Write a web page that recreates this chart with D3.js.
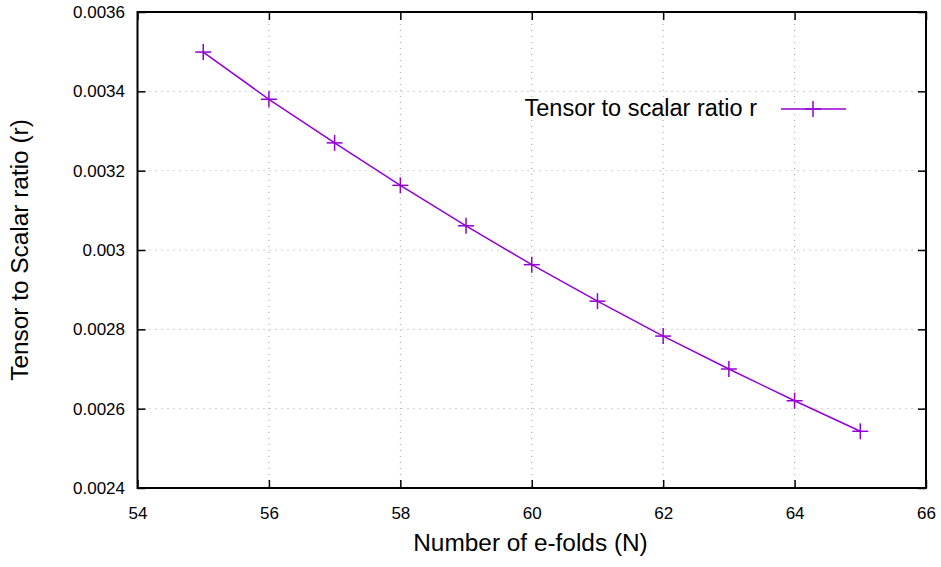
<!DOCTYPE html>
<html><head><meta charset="utf-8">
<script src="https://cdn.jsdelivr.net/npm/d3@7"></script>
<style>body{margin:0;background:#fff}svg{display:block}text{font-family:"Liberation Sans",Arial,Helvetica,sans-serif}</style>
</head><body><svg id="c" width="941" height="567"></svg>
<script>
const efolds = [55,56,57,58,59,60,61,62,63,64,65];
const rValues = [0.003499,0.003380,0.003270,0.003163,0.003061,0.002963,0.002871,0.002783,0.002700,0.002620,0.002543];
const xTicks = [54,56,58,60,62,64,66];
const yTicks = [0.0024,0.0026,0.0028,0.003,0.0032,0.0034,0.0036];
const yTickLabels = ["0.0024","0.0026","0.0028","0.003","0.0032","0.0034","0.0036"];
const seriesName = "Tensor to scalar ratio r";
const color = "#9400d3";

const svg = d3.select("#c");
const L=137.5, R=926, T=12, B=488;
const x = d3.scaleLinear().domain([54,66]).range([L,R]);
const y = d3.scaleLinear().domain([0.0024,0.0036]).range([B,T]);

// grid
const g = svg.append("g");
g.selectAll(".gx").data(xTicks.slice(1,-1)).enter().append("line")
 .attr("x1",d=>x(d)).attr("x2",d=>x(d)).attr("y1",T).attr("y2",B)
 .attr("stroke","#a0a0a0").attr("stroke-width",1).attr("stroke-dasharray","1,5");
g.selectAll(".gy").data(yTicks.slice(1,-1)).enter().append("line")
 .attr("x1",L).attr("x2",R).attr("y1",d=>y(d)).attr("y2",d=>y(d))
 .attr("stroke","#a0a0a0").attr("stroke-width",1).attr("stroke-dasharray","1,5");

// axes with inward ticks
const tl=8;
svg.append("g").attr("transform",`translate(0,${B})`)
 .call(d3.axisBottom(x).tickValues(xTicks).tickSize(-tl).tickPadding(19).tickFormat(d3.format("d")))
 .call(a=>{a.select(".domain").remove();a.selectAll("line").attr("stroke","#000").attr("stroke-width",1.5);a.selectAll("text").attr("font-size",17).attr("fill","#000");});
svg.append("g").attr("transform",`translate(0,${T})`)
 .call(d3.axisTop(x).tickValues(xTicks).tickSize(-tl).tickFormat(""))
 .call(a=>{a.select(".domain").remove();a.selectAll("line").attr("stroke","#000").attr("stroke-width",1.5);});
svg.append("g").attr("transform",`translate(${L},0)`)
 .call(d3.axisLeft(y).tickValues(yTicks).tickSize(-tl).tickPadding(12.5).tickFormat((d,i)=>yTickLabels[i]))
 .call(a=>{a.select(".domain").remove();a.selectAll("line").attr("stroke","#000").attr("stroke-width",1.5);a.selectAll("text").attr("font-size",17).attr("fill","#000");});
svg.append("g").attr("transform",`translate(${R},0)`)
 .call(d3.axisRight(y).tickValues(yTicks).tickSize(-tl).tickFormat(""))
 .call(a=>{a.select(".domain").remove();a.selectAll("line").attr("stroke","#000").attr("stroke-width",1.5);});

// border
svg.append("rect").attr("x",L).attr("y",T).attr("width",R-L).attr("height",B-T)
 .attr("fill","none").attr("stroke","#000").attr("stroke-width",2);

// line
const line = d3.line().x((d,i)=>x(efolds[i])).y(d=>y(d));
svg.append("path").datum(rValues).attr("d",line).attr("fill","none").attr("stroke",color).attr("stroke-width",1.5);
const ps=8;
const pts = svg.append("g").selectAll("g").data(rValues).enter().append("g")
 .attr("transform",(d,i)=>`translate(${x(efolds[i])},${y(d)})`);
pts.append("line").attr("x1",-ps).attr("x2",ps).attr("stroke",color).attr("stroke-width",1.5);
pts.append("line").attr("y1",-ps).attr("y2",ps).attr("stroke",color).attr("stroke-width",1.5);

// legend
const ly=109;
svg.append("text").attr("x",757).attr("y",116).attr("text-anchor","end").attr("font-size",23.5).attr("fill","#000").text(seriesName);
svg.append("line").attr("x1",781).attr("x2",846).attr("y1",ly).attr("y2",ly).attr("stroke",color).attr("stroke-width",1.5);
svg.append("line").attr("x1",813-ps).attr("x2",813+ps).attr("y1",ly).attr("y2",ly).attr("stroke",color).attr("stroke-width",1.5);
svg.append("line").attr("x1",813).attr("x2",813).attr("y1",ly-ps).attr("y2",ly+ps).attr("stroke",color).attr("stroke-width",1.5);

// axis titles
svg.append("text").attr("x",530.5).attr("y",551).attr("text-anchor","middle").attr("font-size",24.4).attr("fill","#000").text("Number of e-folds (N)");
svg.append("text").attr("transform",`translate(28,${(T+B)/2}) rotate(-90)`).attr("text-anchor","middle").attr("font-size",24.4).attr("fill","#000").text("Tensor to Scalar ratio (r)");
</script></body></html>
